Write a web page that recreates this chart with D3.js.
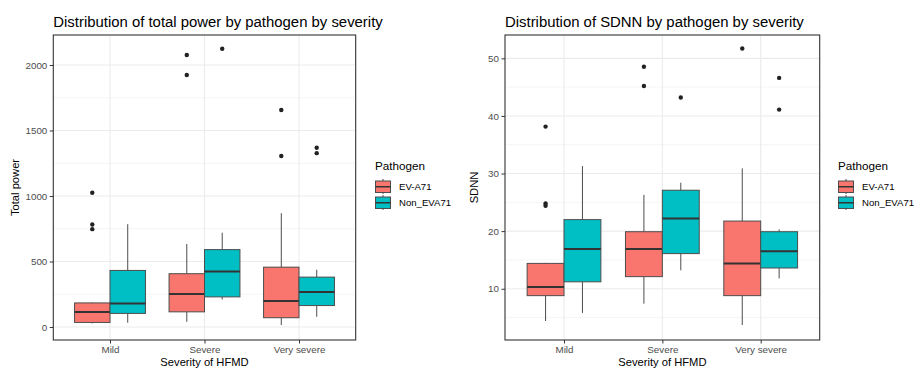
<!DOCTYPE html>
<html><head><meta charset="utf-8">
<script src="https://cdn.jsdelivr.net/npm/d3@7"></script>
<style>body{margin:0;background:#fff;}svg{display:block;font-family:"Liberation Sans",Arial,sans-serif;}</style>
</head><body><svg id="c" width="917" height="371"></svg>
<script>
const categories = ["Mild", "Severe", "Very severe"];
const pathogens = ["EV-A71", "Non_EVA71"];
const colors = ["#F8766D", "#00BFC4"];

// [lower whisker, q1, median, q3, upper whisker] per category
const tpEV = [[28, 35, 114, 184, 188], [40, 116, 253, 407, 634], [15, 71, 199, 457, 869]];
const tpNon = [[33, 104, 179, 432, 785], [210, 230, 424, 591, 720], [78, 164, 268, 381, 437]];
const tpEVOut = [[1025, 783, 747], [2076, 1924], [1657, 1305]];
const tpNonOut = [[], [2124], [1368, 1327]];
const tpTicks = [0, 500, 1000, 1500, 2000];
const tpMinor = [250, 750, 1250, 1750];

const sdEV = [[4.4, 8.8, 10.3, 14.4, 14.5], [7.4, 12.1, 16.9, 19.9, 26.3], [3.7, 8.8, 14.4, 21.75, 30.9]];
const sdNon = [[5.8, 11.2, 16.9, 22.0, 31.3], [13.2, 16.1, 22.2, 27.1, 28.4], [11.8, 13.6, 16.5, 19.9, 20.3]];
const sdEVOut = [[38.15, 24.8, 24.4], [48.55, 45.2], [51.7]];
const sdNonOut = [[], [43.2], [46.6, 41.1]];
const sdTicks = [10, 20, 30, 40, 50];
const sdMinor = [5, 15, 25, 35, 45];

const svg = d3.select("#c");

function panel(o) {
  const g = svg.append("g");
  const x = d3.scalePoint().domain(categories).range([o.left, o.right]).padding(0.6);
  const step = x.step();
  const y = d3.scaleLinear().domain(o.ydom).range([o.bottom, o.top]);
  g.selectAll(".mn").data(o.minor).join("line")
    .attr("x1", o.left).attr("x2", o.right)
    .attr("y1", d => y(d)).attr("y2", d => y(d))
    .attr("stroke", "#F3F3F3").attr("stroke-width", 0.8);
  g.selectAll(".mj").data(o.ticks).join("line")
    .attr("x1", o.left).attr("x2", o.right)
    .attr("y1", d => y(d)).attr("y2", d => y(d))
    .attr("stroke", "#EBEBEB").attr("stroke-width", 1.1);
  g.selectAll(".vx").data(categories).join("line")
    .attr("x1", d => x(d)).attr("x2", d => x(d))
    .attr("y1", o.top).attr("y2", o.bottom)
    .attr("stroke", "#EBEBEB").attr("stroke-width", 1.1);

  const bw = step * 0.375;
  const series = [o.ev, o.non];
  const outs = [o.evOut, o.nonOut];
  series.forEach((s, si) => {
    const off = (si === 0 ? -1 : 1) * step * 0.1875;
    s.forEach((st, ci) => {
      const cx = x(categories[ci]) + off;
      const [lo, q1, md, q3, hi] = st;
      g.append("line").attr("x1", cx).attr("x2", cx).attr("y1", y(q3)).attr("y2", y(hi))
        .attr("stroke", "#4D4D4D").attr("stroke-width", 1);
      g.append("line").attr("x1", cx).attr("x2", cx).attr("y1", y(q1)).attr("y2", y(lo))
        .attr("stroke", "#4D4D4D").attr("stroke-width", 1);
      g.append("rect").attr("x", cx - bw / 2).attr("width", bw)
        .attr("y", y(q3)).attr("height", y(q1) - y(q3))
        .attr("fill", colors[si]).attr("stroke", "#4D4D4D").attr("stroke-width", 1);
      g.append("line").attr("x1", cx - bw / 2).attr("x2", cx + bw / 2).attr("y1", y(md)).attr("y2", y(md))
        .attr("stroke", "#333333").attr("stroke-width", 2);
      g.selectAll(null).data(outs[si][ci]).join("circle")
        .attr("cx", cx).attr("cy", d => y(d)).attr("r", 2.2).attr("fill", "#222");
    });
  });

  g.append("rect").attr("x", o.left).attr("y", o.top).attr("width", o.right - o.left).attr("height", o.bottom - o.top)
    .attr("fill", "none").attr("stroke", "#333333").attr("stroke-width", 1.1);

  const ya = g.append("g").attr("transform", `translate(${o.left},0)`)
    .call(d3.axisLeft(y).tickValues(o.ticks).tickFormat(d3.format("d")).tickSize(3.5).tickPadding(2.5));
  const xa = g.append("g").attr("transform", `translate(0,${o.bottom})`)
    .call(d3.axisBottom(x).tickSize(3.5).tickPadding(3));
  [ya, xa].forEach(a => {
    a.select(".domain").remove();
    a.selectAll(".tick line").attr("stroke", "#333333");
    a.selectAll(".tick text").attr("fill", "#4D4D4D").style("font-size", "9.8px").style("font-family", "Liberation Sans, Arial, sans-serif");
  });

  g.append("text").attr("x", o.left).attr("y", 26.5).text(o.title)
    .style("font-size", "14.9px").attr("fill", "#000");
  g.append("text").attr("x", (o.left + o.right) / 2).attr("y", 366).attr("text-anchor", "middle")
    .text("Severity of HFMD").style("font-size", "11.2px");
  g.append("text").attr("transform", `translate(${o.ylabX},${(o.top + o.bottom) / 2}) rotate(-90)`)
    .attr("text-anchor", "middle").text(o.ylab).style("font-size", "11.2px");

  const lg = g.append("g");
  lg.append("text").attr("x", o.legX).attr("y", 170).text("Pathogen").style("font-size", "11.7px");
  pathogens.forEach((p, i) => {
    const ky = 179 + i * 16;
    const kx = o.legX;
    lg.append("line").attr("x1", kx + 8).attr("x2", kx + 8).attr("y1", ky).attr("y2", ky + 15).attr("stroke", "#4D4D4D");
    lg.append("rect").attr("x", kx + 0.5).attr("y", ky + 2).attr("width", 15).attr("height", 11.5)
      .attr("fill", colors[i]).attr("stroke", "#4D4D4D").attr("stroke-width", 1);
    lg.append("line").attr("x1", kx + 0.5).attr("x2", kx + 15.5).attr("y1", ky + 7.75).attr("y2", ky + 7.75)
      .attr("stroke", "#333").attr("stroke-width", 1.5);
    lg.append("text").attr("x", kx + 24).attr("y", ky + 11).text(p).style("font-size", "9.6px");
  });
}

panel({left: 53.3, right: 355.7, top: 35, bottom: 340, ydom: [-99, 2229],
  ev: tpEV, non: tpNon, evOut: tpEVOut, nonOut: tpNonOut, ticks: tpTicks, minor: tpMinor,
  title: "Distribution of total power by pathogen by severity", ylab: "Total power", ylabX: 19, legX: 375});
panel({left: 505, right: 819.7, top: 35, bottom: 340, ydom: [1.1, 54.05],
  ev: sdEV, non: sdNon, evOut: sdEVOut, nonOut: sdNonOut, ticks: sdTicks, minor: sdMinor,
  title: "Distribution of SDNN by pathogen by severity", ylab: "SDNN", ylabX: 478, legX: 838});
</script></body></html>
